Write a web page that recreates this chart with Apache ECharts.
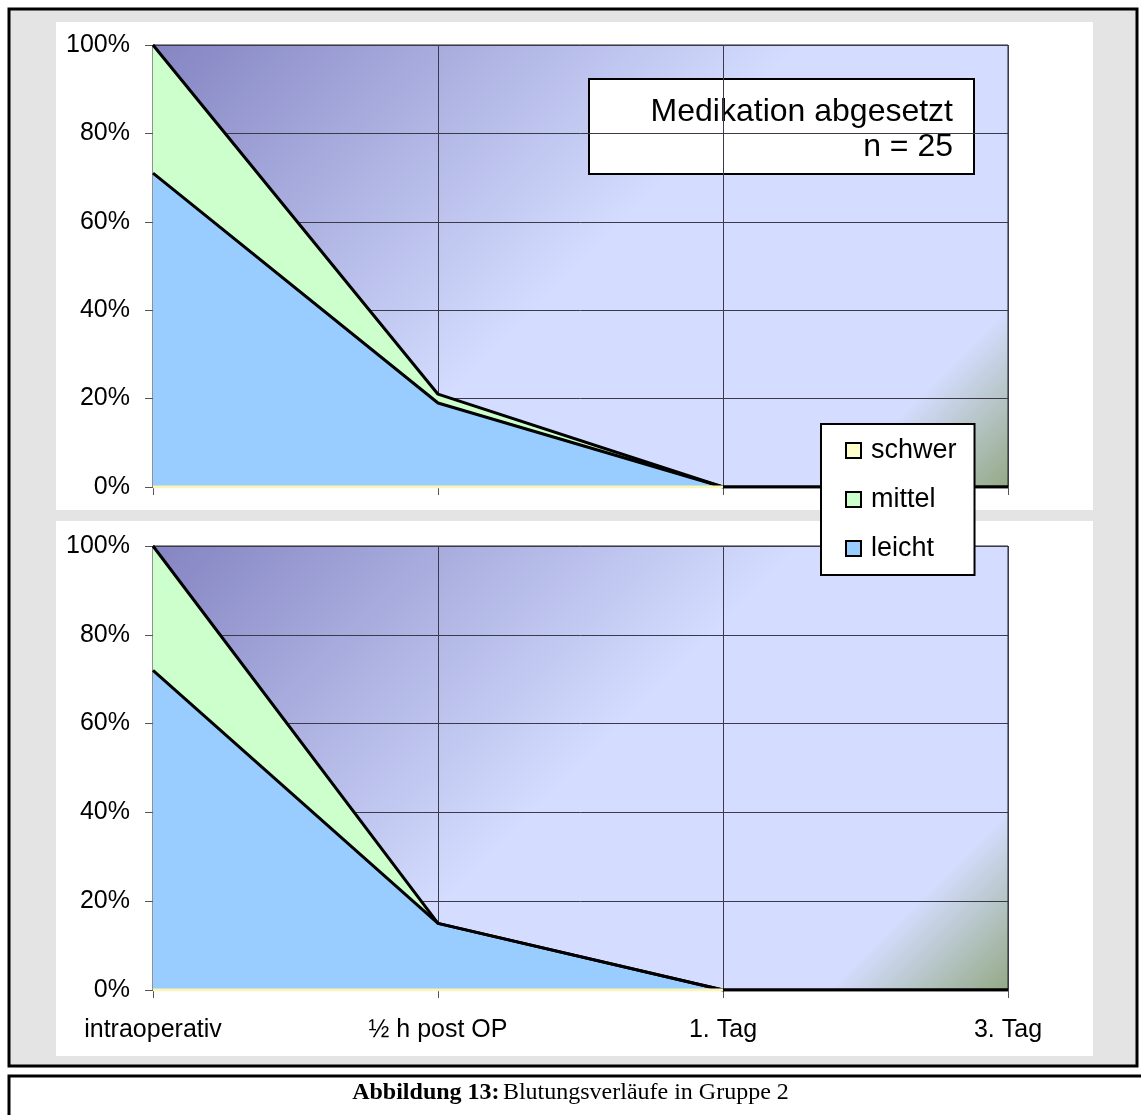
<!DOCTYPE html>
<html>
<head>
<meta charset="utf-8">
<title>Blutungsverläufe in Gruppe 2</title>
<script src="https://cdn.jsdelivr.net/npm/echarts@6/dist/echarts.min.js"></script>
<style>
  html, body { margin: 0; padding: 0; background: #ffffff; }
  #chart { width: 1141px; height: 1115px; }
</style>
</head>
<body>
<div id="chart"></div>
<script>
// Zeitpunkte der Erhebung
const categories = ['intraoperativ', '½ h post OP', '1. Tag', '3. Tag'];

// Anteil der Patienten je Blutungsgrad (%) – oberes Diagramm
const topLeicht = [71, 19, 0, 0];
const topMittel = [29, 2, 0, 0];
const topSchwer = [0, 0, 0, '-'];

// Anteil der Patienten je Blutungsgrad (%) – unteres Diagramm
const botLeicht = [72, 15, 0, 0];
const botMittel = [28, 0, 0, 0];
const botSchwer = [0, 0, 0, '-'];

const yTicks = [0, 20, 40, 60, 80, 100];

const FONT = '"Liberation Sans", Arial, sans-serif';
const SERIF = '"Liberation Serif", "Times New Roman", serif';

// diagonaler Verlauf (45° in Pixeln) für eine Zeichenfläche mit Seitenverhältnis w:h
function plotBackground(w, h) {
  const d = (w + h) / 2;
  return new echarts.graphic.LinearGradient(0, 0, d / w, d / h, [
    { offset: 0, color: '#8484c2' },
    { offset: 0.5, color: '#d4ddff' },
    { offset: 0.86, color: '#d4ddff' },
    { offset: 1, color: '#93a985' }
  ]);
}

const chart = echarts.init(document.getElementById('chart'), null, { renderer: 'canvas' });

function makeX(gridIndex, showLabels) {
  return {
    type: 'category',
    gridIndex: gridIndex,
    data: categories,
    boundaryGap: false,
    axisLine: { show: false },
    axisTick: { show: true, length: 8, lineStyle: { color: '#555' } },
    axisLabel: {
      show: showLabels, margin: 28, fontSize: 25, color: '#000', fontFamily: FONT
    },
    splitLine: { show: true, lineStyle: { color: '#3a3a4a', width: 1 } }
  };
}

function makeY(gridIndex) {
  return {
    type: 'value',
    gridIndex: gridIndex,
    min: yTicks[0],
    max: yTicks[yTicks.length - 1],
    interval: 20,
    axisLine: { show: true, lineStyle: { color: '#000', width: 1 } },
    axisTick: { show: true, length: 8, lineStyle: { color: '#555' } },
    axisLabel: {
      margin: 23, fontSize: 25, color: '#000', fontFamily: FONT,
      formatter: '{value}%'
    },
    splitLine: { show: true, lineStyle: { color: '#3a3a4a', width: 1 } }
  };
}

function areaSeries(name, data, color, idx, stack) {
  return {
    name: name,
    type: 'line',
    xAxisIndex: idx,
    yAxisIndex: idx,
    stack: stack,
    data: data,
    symbol: 'none',
    silent: true,
    lineStyle: { color: '#000', width: 3 },
    itemStyle: { color: color, borderColor: '#000', borderWidth: 2 },
    areaStyle: { color: color, opacity: 1 },
    z: 3
  };
}

function schwerSeries(data, idx) {
  return {
    name: 'schwer',
    type: 'line',
    xAxisIndex: idx,
    yAxisIndex: idx,
    data: data,
    symbol: 'none',
    silent: true,
    lineStyle: { color: '#fbf6b8', width: 3 },
    itemStyle: { color: '#ffffcc', borderColor: '#000', borderWidth: 2 },
    z: 4
  };
}

const option = {
  animation: false,
  backgroundColor: '#ffffff',
  textStyle: { fontFamily: FONT },
  graphic: [
    // Rahmen der Abbildung
    { type: 'rect', z: -10, silent: true,
      shape: { x: 9, y: 9, width: 1128, height: 1057 },
      style: { fill: '#e4e4e4', stroke: '#000', lineWidth: 3 } },
    { type: 'rect', z: -9, silent: true,
      shape: { x: 56, y: 22, width: 1037, height: 488 },
      style: { fill: '#ffffff' } },
    { type: 'rect', z: -9, silent: true,
      shape: { x: 56, y: 521, width: 1037, height: 535 },
      style: { fill: '#ffffff' } },
    // Hinweisfeld
    { type: 'group', left: 588, top: 78, z: 20, children: [
      { type: 'rect', shape: { x: 0, y: 0, width: 385, height: 95 },
        style: { fill: '#ffffff', stroke: '#000', lineWidth: 2 } },
      { type: 'text', x: 364, y: 33,
        style: { text: 'Medikation abgesetzt', fontSize: 32, fontFamily: FONT,
                 fill: '#000', align: 'right', verticalAlign: 'middle' } },
      { type: 'text', x: 364, y: 68,
        style: { text: 'n = 25', fontSize: 32, fontFamily: FONT,
                 fill: '#000', align: 'right', verticalAlign: 'middle' } }
    ] },
    // Bildunterschrift
    { type: 'rect', z: -10, silent: true,
      shape: { x: 9, y: 1076, width: 1140, height: 50 },
      style: { fill: '#ffffff', stroke: '#000', lineWidth: 3 } },
    { type: 'text', left: 'center', top: 1081, z: 5,
      style: {
        text: '{b|Abbildung 13:} {n|Blutungsverläufe in Gruppe 2}',
        rich: {
          b: { fontFamily: SERIF, fontSize: 24, fontWeight: 'bold', fill: '#000' },
          n: { fontFamily: SERIF, fontSize: 24, fill: '#000' }
        }
      } }
  ],
  legend: {
    orient: 'vertical',
    left: 821,
    top: 424,
    padding: [13, 18, 13, 24],
    itemGap: 22,
    itemWidth: 15,
    itemHeight: 15,
    icon: 'rect',
    backgroundColor: '#ffffff',
    borderColor: '#000',
    borderWidth: 2,
    data: ['schwer', 'mittel', 'leicht'],
    textStyle: { fontSize: 27, color: '#000', fontFamily: FONT, padding: [0, 0, 0, 5] },
    z: 30
  },
  grid: [
    { left: 153, top: 45, width: 855, height: 442, show: true,
      backgroundColor: plotBackground(855, 442), borderColor: '#222', borderWidth: 1 },
    { left: 153, top: 546, width: 855, height: 444, show: true,
      backgroundColor: plotBackground(855, 444), borderColor: '#222', borderWidth: 1 }
  ],
  xAxis: [makeX(0, false), makeX(1, true)],
  yAxis: [makeY(0), makeY(1)],
  series: [
    areaSeries('leicht', topLeicht, '#99ccff', 0, 'oben'),
    areaSeries('mittel', topMittel, '#ccffcc', 0, 'oben'),
    schwerSeries(topSchwer, 0),
    areaSeries('leicht', botLeicht, '#99ccff', 1, 'unten'),
    areaSeries('mittel', botMittel, '#ccffcc', 1, 'unten'),
    schwerSeries(botSchwer, 1)
  ]
};

chart.setOption(option);
</script>
</body>
</html>
